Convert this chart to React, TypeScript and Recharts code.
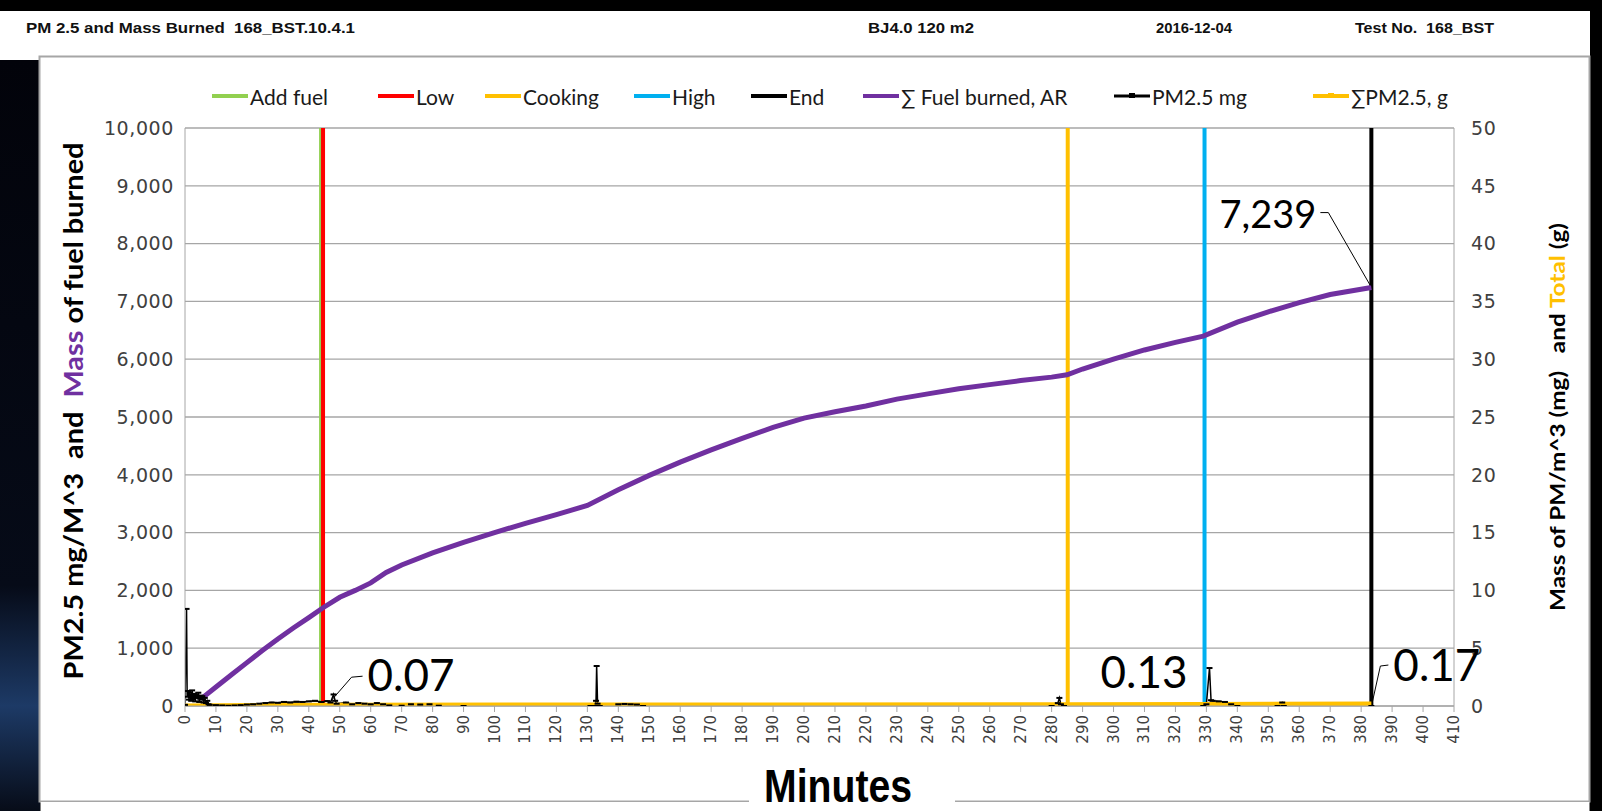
import React from 'react';
import {
  ComposedChart,
  Line,
  XAxis,
  YAxis,
  CartesianGrid,
  ReferenceLine,
  LabelList,
} from 'recharts';

// ─── Data ─────────────────────────────────────────────────────────────────────

const X_TICKS = [
  0, 10, 20, 30, 40, 50, 60, 70, 80, 90, 100, 110, 120, 130, 140, 150, 160, 170, 180, 190, 200,
  210, 220, 230, 240, 250, 260, 270, 280, 290, 300, 310, 320, 330, 340, 350, 360, 370, 380, 390,
  400, 410,
];
const LEFT_TICKS = [0, 1000, 2000, 3000, 4000, 5000, 6000, 7000, 8000, 9000, 10000];
const RIGHT_TICKS = [0, 5, 10, 15, 20, 25, 30, 35, 40, 45, 50];

// phase markers (minutes)
const EVENT_NAMES = ['Add fuel', 'Low', 'Cooking', 'High', 'End'];
const EVENT_MIN = [43.8, 44.6, 285.2, 329.4, 383.3];

// ∑ Fuel burned, AR (left axis)
const FUEL_MIN = [
  5.8, 10, 15, 20, 25, 30, 35, 40, 44.6, 50, 55, 60, 65, 70, 80, 90, 100, 110, 120, 130, 140,
  150, 160, 170, 180, 190, 200, 210, 220, 230, 240, 250, 260, 270, 280, 285, 290, 300, 310,
  320, 329, 340, 350, 360, 370, 383.3,
];
const FUEL_VAL = [
  150, 330, 540, 750, 960, 1160, 1350, 1530, 1700, 1880, 2000, 2130, 2310, 2440, 2650, 2830,
  3000, 3160, 3310, 3470, 3740, 3990, 4220, 4430, 4630, 4820, 4980, 5090, 5190, 5310, 5400,
  5490, 5560, 5630, 5690, 5730, 5830, 6000, 6160, 6290, 6400, 6640, 6820, 6980, 7120, 7239,
];

// PM2.5 mg (left axis)
const PM_MIN = [
  0, 0.5, 0.7, 1, 1.3, 1.6, 2, 2.3, 2.6, 3, 3.3, 3.6, 4, 4.3, 4.6, 5, 5.3, 5.6, 6, 6.4, 6.8,
  7.2, 7.6, 8, 10, 12, 14, 16, 18, 20, 22, 24, 26, 28, 30, 32, 34, 36, 38, 40, 42, 44, 46, 47,
  48, 48.5, 49, 52, 54, 56, 58, 60, 62, 64, 66, 70, 73, 76, 79, 82, 90, 131, 132.5, 132.8, 133,
  133.3, 134, 140, 142, 144, 146, 148, 280, 282, 282.5, 283, 284, 329, 330, 331, 331.5, 332,
  334, 336, 338, 340, 353, 354.5, 355, 383.3,
];
const PM_VAL = [
  20, 1680, 160, 260, 110, 230, 90, 270, 120, 210, 80, 190, 140, 230, 70, 180, 110, 170, 60,
  140, 50, 90, 30, 20, 15, 10, 5, 10, 15, 25, 30, 40, 50, 60, 55, 70, 60, 75, 70, 80, 90, 70,
  85, 60, 200, 90, 40, 60, 30, 50, 40, 30, 50, 30, 10, 5, 30, 25, 30, 5, 0, 0, 0, 90, 692, 40,
  0, 30, 35, 30, 25, 0, 0, 50, 140, 30, 0, 0, 30, 657, 100, 90, 80, 70, 30, 0, 0, 60, 0, 0,
];

// ∑PM2.5, g (right axis)
const PMT_MIN = [0, 48, 133, 283, 329.4, 383.3];
const PMT_VAL = [0, 0.07, 0.09, 0.11, 0.13, 0.17];
const PMT_LABELED = [1, 4, 5];

const fuelData = FUEL_MIN.map((m, i) => ({ min: m, fuel: FUEL_VAL[i] }));
const pmData = PM_MIN.map((m, i) => ({ min: m, pm: PM_VAL[i] }));
const pmtData = PMT_MIN.map((m, i) => ({ min: m, total: PMT_VAL[i] }));

// ─── Styles ───────────────────────────────────────────────────────────────────

const EVENT_COLORS = ['#92D050', '#FF0000', '#FFC000', '#00B0F0', '#000000'];
const EVENT_WIDTHS = [3, 4, 4, 4, 4];
const GRID = '#a6a6a6';
const TICK_FILL = '#404040';

const LEGEND = [
  { name: 'Add fuel', color: '#92D050', x: 212 },
  { name: 'Low', color: '#FF0000', x: 378 },
  { name: 'Cooking', color: '#FFC000', x: 485 },
  { name: 'High', color: '#00B0F0', x: 634 },
  { name: 'End', color: '#000000', x: 751 },
  { name: '∑ Fuel burned, AR', color: '#7030A0', x: 863 },
  { name: 'PM2.5 mg', color: '#000000', x: 1114, marker: true, thin: true },
  { name: '∑PM2.5, g', color: '#FFC000', x: 1313, marker: true },
];

// ─── Custom pieces ────────────────────────────────────────────────────────────

function XTick(props: any) {
  const { x, y, payload } = props;
  return (
    <text
      x={x}
      y={y + 1}
      transform={`rotate(-90, ${x}, ${y + 1})`}
      textAnchor="end"
      dominantBaseline="central"
      fontSize={15}
      fontFamily="DejaVu Sans"
      fill={TICK_FILL}
    >
      {payload.value}
    </text>
  );
}

function PmDot(props: any) {
  const { cx, cy, index } = props;
  if (cx == null || cy == null) return <g key={index} />;
  return <rect key={index} x={cx - 3} y={cy - 1} width={6} height={2} fill="#000" />;
}

const valueFont = { fontFamily: 'Lato', fill: '#000' };

function TotalLabel(props: any) {
  const { x, y, value, index } = props;
  if (!PMT_LABELED.includes(index)) return null;
  const txt = Number(value).toFixed(2);
  if (index === 1) {
    return (
      <g>
        <polyline
          points={`${x - 2},${y - 5} ${x + 18},${y - 28} ${x + 29},${y - 29}`}
          fill="none"
          stroke="#000"
          strokeWidth={1}
        />
        <text x={x + 34} y={y - 14} fontSize={44} {...valueFont}>
          {txt}
        </text>
      </g>
    );
  }
  if (index === 4) {
    return (
      <text x={x - 17} y={y - 16} textAnchor="end" fontSize={44} {...valueFont}>
        {txt}
      </text>
    );
  }
  return (
    <g>
      <polyline
        points={`${x + 1},${y - 2} ${x + 9},${y - 38} ${x + 17},${y - 39}`}
        fill="none"
        stroke="#000"
        strokeWidth={1}
      />
      <text x={x + 22} y={y - 23} fontSize={44} {...valueFont}>
        {txt}
      </text>
    </g>
  );
}

function FuelLabel(props: any) {
  const { x, y, value, index } = props;
  if (index !== FUEL_VAL.length - 1) return null;
  return (
    <g>
      <polyline
        points={`${x - 1},${y - 2} ${x - 43},${y - 75} ${x - 51},${y - 75}`}
        fill="none"
        stroke="#000"
        strokeWidth={1}
      />
      <text x={x - 55} y={y - 60} textAnchor="end" fontSize={38} {...valueFont}>
        {Number(value).toLocaleString('en-US')}
      </text>
    </g>
  );
}

// ─── Main ─────────────────────────────────────────────────────────────────────

export default function App() {
  return (
    <div style={{ position: 'relative', width: 1602, height: 811, background: '#000', overflow: 'hidden' }}>
      <style>{'body{margin:0}'}</style>

      {/* backdrop */}
      <svg width={1602} height={811} style={{ position: 'absolute', left: 0, top: 0 }}>
        <defs>
          <linearGradient id="edge" x1="0" y1="0" x2="0" y2="1">
            <stop offset="0" stopColor="#02030a" />
            <stop offset="0.7" stopColor="#060b18" />
            <stop offset="0.86" stopColor="#1d3a66" />
            <stop offset="1" stopColor="#070c18" />
          </linearGradient>
        </defs>
        <rect x={0} y={11} width={1590} height={49} fill="#fff" />
        <rect x={0} y={60} width={40} height={751} fill="url(#edge)" />
        <rect x={39.5} y={56.5} width={1550} height={745} fill="#fff" stroke="#a6a6a6" strokeWidth={2} />
        <rect x={40.5} y={802} width={1549} height={9} fill="#fff" />
      </svg>

      <div style={{ position: 'absolute', left: 0, top: 0 }}>
        <ComposedChart width={1602} height={811} margin={{ top: 128, right: 88, bottom: 60, left: 105 }}>
          <CartesianGrid vertical={false} stroke={GRID} strokeWidth={1.3} />
          <XAxis
            type="number"
            dataKey="min"
            domain={[0, 410]}
            ticks={X_TICKS}
            interval={0}
            height={45}
            allowDataOverflow
            axisLine={{ stroke: GRID }}
            tickLine={{ stroke: GRID }}
            tickSize={6}
            tick={<XTick />}
          />
          <YAxis
            domain={[0, 10000]}
            ticks={LEFT_TICKS}
            interval={0}
            width={80}
            allowDataOverflow
            axisLine={{ stroke: GRID }}
            tickLine={false}
            tickMargin={5}
            tickFormatter={(v: number) => v.toLocaleString('en-US')}
            tick={{ fill: TICK_FILL, fontSize: 19, fontFamily: 'DejaVu Sans', letterSpacing: 0.6 }}
          />
          <YAxis
            yAxisId="right"
            orientation="right"
            domain={[0, 50]}
            ticks={RIGHT_TICKS}
            interval={0}
            width={60}
            allowDataOverflow
            axisLine={{ stroke: GRID }}
            tickLine={false}
            tickMargin={11}
            tick={{ fill: TICK_FILL, fontSize: 19, fontFamily: 'DejaVu Sans', letterSpacing: 0.6, textAnchor: 'start' }}
          />

          {EVENT_MIN.map((m, i) => (
            <ReferenceLine
              key={EVENT_NAMES[i]}
              x={m}
              stroke={EVENT_COLORS[i]}
              strokeWidth={EVENT_WIDTHS[i]}
            />
          ))}

          <Line
            data={pmData}
            dataKey="pm"
            name="PM2.5 mg"
            type="linear"
            stroke="#000"
            strokeWidth={1.5}
            dot={PmDot}
            activeDot={false}
            isAnimationActive={false}
          />
          <Line
            data={fuelData}
            dataKey="fuel"
            name="∑ Fuel burned, AR"
            type="linear"
            stroke="#7030A0"
            strokeWidth={5}
            dot={false}
            activeDot={false}
            isAnimationActive={false}
          >
            <LabelList dataKey="fuel" content={<FuelLabel />} />
          </Line>
          <Line
            data={pmtData}
            dataKey="total"
            yAxisId="right"
            name="∑PM2.5, g"
            type="linear"
            stroke="#FFC000"
            strokeWidth={5}
            dot={false}
            activeDot={false}
            isAnimationActive={false}
          >
            <LabelList dataKey="total" content={<TotalLabel />} />
          </Line>
        </ComposedChart>
      </div>

      {/* titles, legend */}
      <svg width={1602} height={811} style={{ position: 'absolute', left: 0, top: 0, pointerEvents: 'none' }}>
        <g fontFamily="'Liberation Sans Narrow', 'Liberation Sans', Arial, sans-serif" fontWeight={700} fontSize={15} fill="#111">
          <text x={26} y={33} textLength={329} lengthAdjust="spacingAndGlyphs" style={{ whiteSpace: 'pre' }}>
            PM 2.5 and Mass Burned  168_BST.10.4.1
          </text>
          <text x={868} y={33} textLength={106} lengthAdjust="spacingAndGlyphs">BJ4.0 120 m2</text>
          <text x={1156} y={33} textLength={76} lengthAdjust="spacingAndGlyphs">2016-12-04</text>
          <text x={1355} y={33} textLength={139} lengthAdjust="spacingAndGlyphs" style={{ whiteSpace: 'pre' }}>
            Test No.  168_BST
          </text>
        </g>

        {LEGEND.map((l) => (
          <g key={l.name}>
            <line x1={l.x} x2={l.x + 36} y1={96} y2={96} stroke={l.color} strokeWidth={l.thin ? 3 : 4} />
            {l.marker && <rect x={l.x + 15} y={93} width={6} height={5} fill={l.color} />}
            <text x={l.x + 38} y={96} dominantBaseline="central" fontSize={21} fontFamily="Lato" fill="#1a1a1a">
              {l.name}
            </text>
          </g>
        ))}

        <text
          transform="translate(72,411) rotate(-90)"
          textAnchor="middle"
          dominantBaseline="central"
          fontSize={27}
          fontWeight={700}
          fontFamily="Lato"
          fill="#000"
          textLength={537}
          lengthAdjust="spacingAndGlyphs"
          style={{ whiteSpace: 'pre' }}
        >
          PM2.5 mg/M^3  and  <tspan fill="#7030A0">Mass</tspan> of fuel burned
        </text>
        <text
          transform="translate(1556,417) rotate(-90)"
          textAnchor="middle"
          dominantBaseline="central"
          fontSize={21}
          fontWeight={700}
          fontFamily="Lato"
          fill="#000"
          textLength={388}
          lengthAdjust="spacingAndGlyphs"
          style={{ whiteSpace: 'pre' }}
        >
          Mass of PM/m^3 (mg)   and <tspan fill="#FFC000">Total</tspan> (g)
        </text>

        <rect x={749} y={768} width={206} height={43} fill="#fff" />
        <text
          x={838}
          y={802}
          textAnchor="middle"
          fontSize={46}
          fontWeight={700}
          fontFamily="'Liberation Sans Narrow', 'Liberation Sans', Arial, sans-serif"
          fill="#000"
          textLength={148}
          lengthAdjust="spacingAndGlyphs"
        >
          Minutes
        </text>
      </svg>
    </div>
  );
}
